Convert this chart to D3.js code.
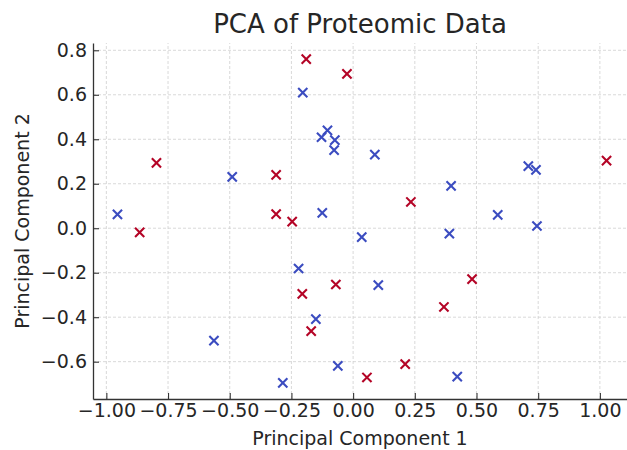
<!DOCTYPE html>
<html>
<head>
<meta charset="utf-8">
<script src="https://cdn.jsdelivr.net/npm/d3@7"></script>
<style>
  body { margin: 0; background: #fff; }
  text { font-family: "DejaVu Sans", sans-serif; fill: #262626; }
</style>
</head>
<body>
<div id="chart"></div>
<script>
// group 0 (blue) points
const blueX = [-0.204, -0.104, -0.128, -0.074, -0.077, -0.490, -0.955, -0.125, 0.088, 0.397, 0.586, 0.710, 0.741, 0.745, 0.035, 0.390, -0.221, 0.102, -0.151, -0.564, -0.062, -0.285, 0.422];
const blueY = [0.610, 0.440, 0.409, 0.396, 0.351, 0.231, 0.062, 0.069, 0.331, 0.190, 0.060, 0.279, 0.262, 0.010, -0.040, -0.024, -0.181, -0.256, -0.409, -0.505, -0.619, -0.695, -0.667];
// group 1 (red) points
const redX = [-0.190, -0.025, -0.797, -0.312, -0.312, -0.247, 1.027, 0.234, -0.865, -0.206, -0.070, 0.482, 0.368, -0.170, 0.211, 0.056];
const redY = [0.760, 0.694, 0.294, 0.240, 0.063, 0.030, 0.304, 0.118, -0.019, -0.295, -0.253, -0.229, -0.354, -0.463, -0.611, -0.671];

const xTicks = [-1.0, -0.75, -0.5, -0.25, 0, 0.25, 0.5, 0.75, 1.0];
const yTicks = [-0.6, -0.4, -0.2, 0, 0.2, 0.4, 0.6, 0.8];

const W = 627, H = 450;
const margin = {top: 43, right: -4, bottom: 51, left: 93};

const svg = d3.select("#chart").append("svg")
  .attr("width", W).attr("height", H);

// matplotlib style 5% padding
function padded(vals) {
  const e = d3.extent(vals), p = (e[1] - e[0]) * 0.05;
  return [e[0] - p, e[1] + p];
}

const x = d3.scaleLinear().domain(padded(blueX.concat(redX)))
  .range([margin.left, W - margin.right]);
const y = d3.scaleLinear().domain(padded(blueY.concat(redY)))
  .range([H - margin.bottom, margin.top]);

const gridColor = "#cfcfcf";

// grid
svg.append("g").selectAll("line").data(xTicks).enter().append("line")
  .attr("x1", d => x(d)).attr("x2", d => x(d))
  .attr("y1", y.range()[0]).attr("y2", y.range()[1])
  .attr("stroke", gridColor).attr("stroke-width", 0.8).attr("stroke-dasharray", "3,2");
svg.append("g").selectAll("line").data(yTicks).enter().append("line")
  .attr("y1", d => y(d)).attr("y2", d => y(d))
  .attr("x1", x.range()[0]).attr("x2", x.range()[1])
  .attr("stroke", gridColor).attr("stroke-width", 0.8).attr("stroke-dasharray", "3,2");

// axes (inward ticks)
const xAxis = svg.append("g")
  .attr("transform", `translate(0,${H - margin.bottom})`)
  .call(d3.axisBottom(x).tickValues(xTicks).tickFormat(d3.format(".2f")).tickSizeInner(-6).tickSizeOuter(0).tickPadding(5));
const yAxis = svg.append("g")
  .attr("transform", `translate(${margin.left},0)`)
  .call(d3.axisLeft(y).tickValues(yTicks).tickFormat(d3.format(".1f")).tickSizeInner(-6).tickSizeOuter(0).tickPadding(6));

[xAxis, yAxis].forEach(g => {
  g.select(".domain").attr("stroke", "#333").attr("stroke-width", 1.3);
  g.selectAll(".tick line").attr("stroke", "#333").attr("stroke-width", 1.1);
  g.selectAll(".tick text").style("font-size", "19px").attr("fill", "#262626")
    .style("font-family", "DejaVu Sans, sans-serif");
});

// x markers
function drawX(xs, ys, color) {
  const s = 4.6;
  svg.append("g").selectAll("path").data(xs.map((d, i) => [d, ys[i]])).enter()
    .append("path")
    .attr("d", d => {
      const cx = x(d[0]), cy = y(d[1]);
      return `M${cx - s},${cy - s}L${cx + s},${cy + s}M${cx - s},${cy + s}L${cx + s},${cy - s}`;
    })
    .attr("stroke", color).attr("stroke-width", 2.1).attr("fill", "none");
}
drawX(blueX, blueY, "#3b4cc0");
drawX(redX, redY, "#b40426");

// title and labels
svg.append("text").attr("x", 360).attr("y", 33)
  .attr("text-anchor", "middle").style("font-size", "26px").text("PCA of Proteomic Data");
svg.append("text").attr("x", 360).attr("y", 445)
  .attr("text-anchor", "middle").style("font-size", "19px").text("Principal Component 1");
svg.append("text").attr("transform", `translate(29,${(y.range()[0] + y.range()[1]) / 2}) rotate(-90)`)
  .attr("text-anchor", "middle").style("font-size", "19px").text("Principal Component 2");
</script>
</body>
</html>
